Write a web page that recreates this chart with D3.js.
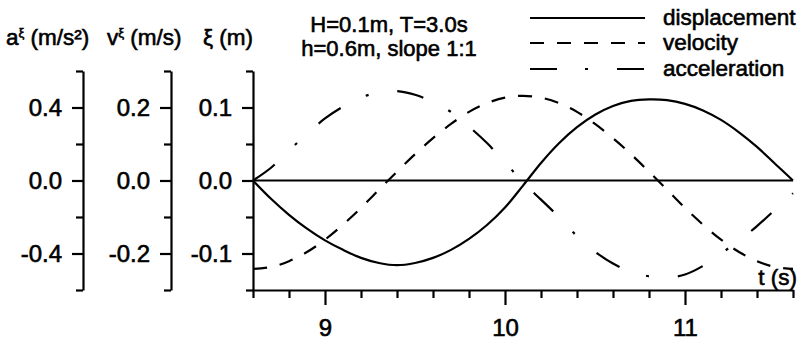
<!DOCTYPE html>
<html>
<head>
<meta charset="utf-8">
<script src="https://cdn.jsdelivr.net/npm/d3@7"></script>
<style>
  html, body { margin: 0; padding: 0; background: #fff; }
  svg { display: block; font-family: "Liberation Sans", Arial, Helvetica, sans-serif; }
  text { fill: #000; }
</style>
</head>
<body>
<svg id="chart" width="804" height="343"></svg>
<script>
// time samples (s)
const time = [8.6, 8.7, 8.8, 8.9, 9.0, 9.1, 9.2, 9.3, 9.4, 9.5, 9.6, 9.7, 9.8, 9.9, 10.0,
              10.1, 10.2, 10.3, 10.4, 10.5, 10.6, 10.7, 10.8, 10.9, 11.0, 11.1, 11.2, 11.3, 11.4, 11.5, 11.6];
// free-surface displacement xi (m)
const displacement = [0.000, -0.025, -0.047, -0.066, -0.082, -0.095, -0.106, -0.113, -0.116, -0.113, -0.106,
                      -0.095, -0.080, -0.061, -0.037, -0.007, 0.024, 0.051, 0.073, 0.090, 0.102,
                      0.109, 0.111, 0.110, 0.105, 0.096, 0.083, 0.066, 0.046, 0.023, 0.000];
// velocity (m/s)
const velocity = [-0.242, -0.237, -0.221, -0.196, -0.162, -0.121, -0.075, -0.025, 0.024, 0.072, 0.116,
                  0.155, 0.188, 0.212, 0.227, 0.232, 0.227, 0.212, 0.188, 0.155, 0.116,
                  0.072, 0.024, -0.025, -0.075, -0.121, -0.162, -0.196, -0.221, -0.237, -0.242];
// acceleration (m/s^2)
const acceleration = [0.000, 0.070, 0.165, 0.255, 0.340, 0.405, 0.455, 0.483, 0.490, 0.470, 0.430,
                      0.375, 0.295, 0.205, 0.100, -0.010, -0.105, -0.200, -0.305, -0.390, -0.455,
                      -0.500, -0.525, -0.532, -0.515, -0.468, -0.400, -0.330, -0.250, -0.160, -0.070];

// axis ticks and labels
const xMajorTicks = [9, 10, 11];
const xMajorLabels = ["9", "10", "11"];
const xMinorTicks = [8.6, 8.8, 9.2, 9.4, 9.6, 9.8, 10.2, 10.4, 10.6, 10.8, 11.2, 11.4, 11.6];
const xiMajorTicks = [-0.1, 0.0, 0.1];
const xiMajorLabels = ["-0.1", "0.0", "0.1"];
const xiMinorTicks = [-0.15, -0.05, 0.05, 0.15];
const vMajorTicks = [-0.2, 0.0, 0.2];
const vMajorLabels = ["-0.2", "0.0", "0.2"];
const vMinorTicks = [-0.3, -0.1, 0.1, 0.3];
const aMajorTicks = [-0.4, 0.0, 0.4];
const aMajorLabels = ["-0.4", "0.0", "0.4"];
const aMinorTicks = [-0.6, -0.2, 0.2, 0.6];

const seriesNames = ["displacement", "velocity", "acceleration"];
const titleLines = ["H=0.1m, T=3.0s", "h=0.6m, slope 1:1"];

const svg = d3.select("#chart");
const INK = "#000";
const LW = 2.2;
const TEXT_STROKE = 0.6;

// scales
const x = d3.scaleLinear().domain([8.6, 11.6]).range([253, 793]);
const plotTop = 71, plotBottom = 290;
const yXi = d3.scaleLinear().domain([-0.15, 0.15]).range([plotBottom, plotTop]);
const yV  = d3.scaleLinear().domain([-0.3, 0.3]).range([plotBottom, plotTop]);
const yA  = d3.scaleLinear().domain([-0.6, 0.6]).range([plotBottom, plotTop]);

const styleAxis = g => {
  g.selectAll("path.domain").attr("stroke", INK).attr("stroke-width", LW);
  g.selectAll(".tick line").attr("stroke", INK).attr("stroke-width", LW);
  g.selectAll(".tick text")
    .attr("font-size", 24)
    .attr("fill", INK)
    .attr("stroke", INK).attr("stroke-width", TEXT_STROKE)
    .attr("font-family", "'Liberation Sans', Arial, sans-serif");
};

// vertical axes: minor ticks first, then labelled majors with the spine
function drawYAxis(scale, xPos, major, labels, minor) {
  const gMinor = svg.append("g").attr("transform", `translate(${xPos},0)`)
    .call(d3.axisLeft(scale).tickValues(minor).tickSize(7).tickSizeOuter(0).tickFormat(""));
  gMinor.select("path.domain").remove();
  styleAxis(gMinor);
  const gMajor = svg.append("g").attr("transform", `translate(${xPos},0)`)
    .call(d3.axisLeft(scale).tickValues(major).tickSize(11).tickSizeOuter(0).tickPadding(10)
      .tickFormat((d, i) => labels[i]));
  styleAxis(gMajor);
}
drawYAxis(yA, 83, aMajorTicks, aMajorLabels, aMinorTicks);
drawYAxis(yV, 171, vMajorTicks, vMajorLabels, vMinorTicks);
drawYAxis(yXi, 253, xiMajorTicks, xiMajorLabels, xiMinorTicks);

// time axis
const gxMinor = svg.append("g").attr("transform", `translate(0,${plotBottom})`)
  .call(d3.axisBottom(x).tickValues(xMinorTicks).tickSize(8).tickSizeOuter(0).tickFormat(""));
gxMinor.select("path.domain").remove();
styleAxis(gxMinor);
const gx = svg.append("g").attr("transform", `translate(0,${plotBottom})`)
  .call(d3.axisBottom(x).tickValues(xMajorTicks).tickSize(15).tickSizeOuter(0).tickPadding(14)
    .tickFormat((d, i) => xMajorLabels[i]));
styleAxis(gx);

// zero reference line
svg.append("line")
  .attr("x1", x(8.6)).attr("x2", x(11.6))
  .attr("y1", yXi(0)).attr("y2", yXi(0))
  .attr("stroke", INK).attr("stroke-width", LW);

// curves
const rows = time.map((t, i) => ({ t, xi: displacement[i], v: velocity[i], a: acceleration[i] }));
const mkLine = (yScale, key) => d3.line()
  .x(d => x(d.t)).y(d => yScale(d[key]))
  .curve(d3.curveCatmullRom.alpha(0.5));

const dashes = { displacement: null, velocity: "14,13", acceleration: "27,28,3,29" };

svg.append("path").datum(rows)
  .attr("d", mkLine(yXi, "xi"))
  .attr("fill", "none").attr("stroke", INK).attr("stroke-width", LW);
svg.append("path").datum(rows)
  .attr("d", mkLine(yV, "v"))
  .attr("fill", "none").attr("stroke", INK).attr("stroke-width", LW)
  .attr("stroke-dasharray", dashes.velocity);
svg.append("path").datum(rows)
  .attr("d", mkLine(yA, "a"))
  .attr("fill", "none").attr("stroke", INK).attr("stroke-width", LW)
  .attr("stroke-dasharray", dashes.acceleration);

// text helper
function label(xp, yp, str, size, anchor) {
  return svg.append("text")
    .attr("x", xp).attr("y", yp)
    .attr("font-size", size)
    .attr("text-anchor", anchor || "start")
    .attr("stroke", INK).attr("stroke-width", TEXT_STROKE)
    .text(str);
}

// axis titles
const tA = label(6, 45, "a", 22.5);
tA.append("tspan").attr("font-size", 13).attr("dy", -8).text("ξ");
tA.append("tspan").attr("dy", 8).text(" (m/s²)");
const tV = label(107, 45, "v", 22.5);
tV.append("tspan").attr("font-size", 13).attr("dy", -8).text("ξ");
tV.append("tspan").attr("dy", 8).text(" (m/s)");
label(203, 45, "ξ (m)", 22.5);

// time axis title
label(797, 285, "t (s)", 22.5, "end");

// case parameters
label(389, 32, titleLines[0], 22, "middle");
label(389, 56, titleLines[1], 22, "middle");

// legend
const legendY = [18, 43, 69];
seriesNames.forEach((name, i) => {
  svg.append("line")
    .attr("x1", 530).attr("x2", 645)
    .attr("y1", legendY[i]).attr("y2", legendY[i])
    .attr("stroke", INK).attr("stroke-width", LW)
    .attr("stroke-dasharray", dashes[name]);
  label(663, legendY[i] + 7, name, 22.5);
});
</script>
</body>
</html>
